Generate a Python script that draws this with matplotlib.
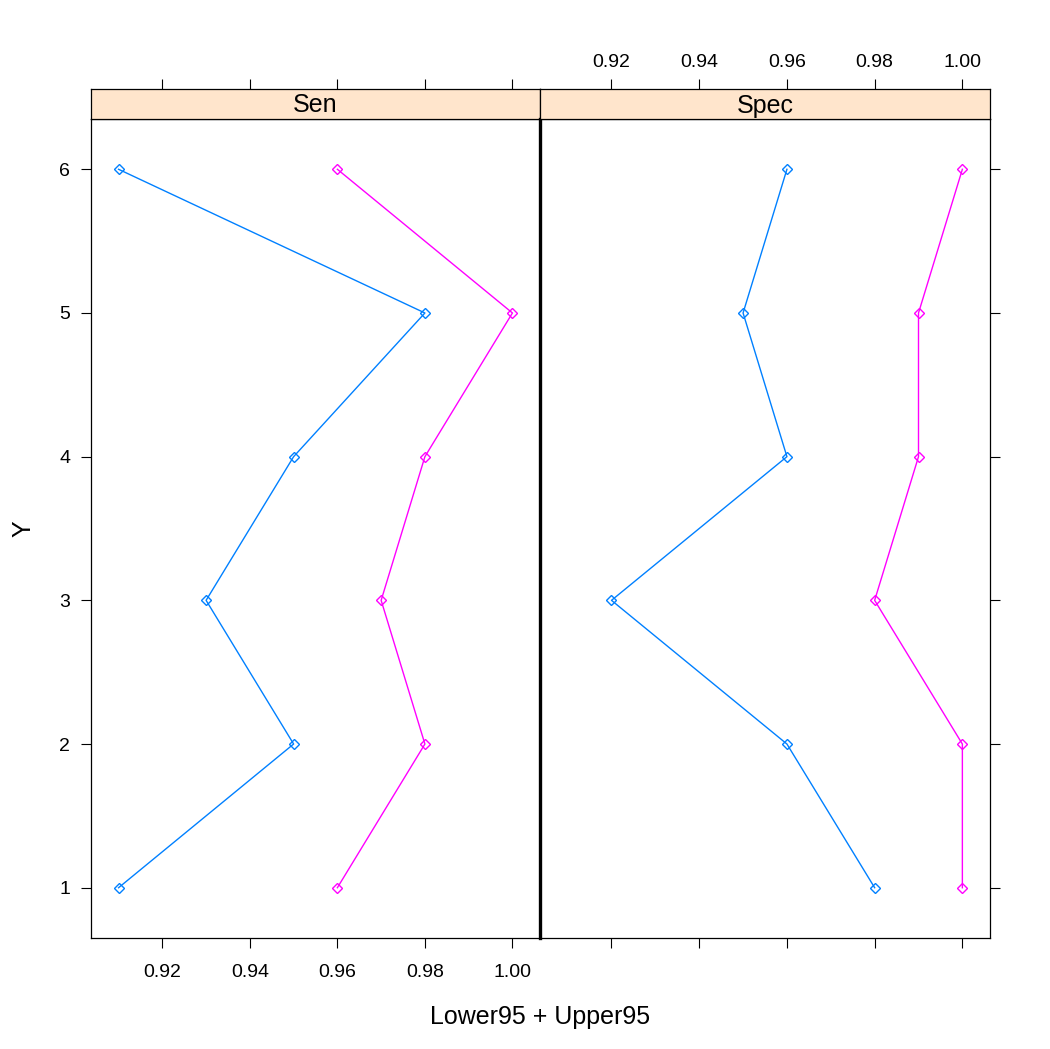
"""lattice 风格的双面板折线图（Sen / Spec 的 Lower95 与 Upper95）"""
import matplotlib
matplotlib.use("Agg")
import matplotlib.pyplot as plt

plt.rcParams["font.family"] = ["Liberation Sans", "DejaVu Sans"]

# ============ 数据 ============
y_vals = [1, 2, 3, 4, 5, 6]
panels = ["Sen", "Spec"]
sen_lower = [0.91, 0.95, 0.93, 0.95, 0.98, 0.91]
sen_upper = [0.96, 0.98, 0.97, 0.98, 1.00, 0.96]
spec_lower = [0.98, 0.96, 0.92, 0.96, 0.95, 0.96]
spec_upper = [1.00, 1.00, 0.98, 0.99, 0.99, 1.00]
x_ticks = [0.92, 0.94, 0.96, 0.98, 1.00]
x_ticklabels = ["0.92", "0.94", "0.96", "0.98", "1.00"]

BLUE = "#0080ff"
MAGENTA = "#ff00ff"
STRIP = "#ffe5cc"

W, H = 1050, 1049
fig = plt.figure(figsize=(W / 100, H / 100), dpi=100)

xlim = (0.9037, 1.0063)
ylim = (0.65, 6.35)


def fx(px):
    return px / W


def fy(px):
    return 1 - px / H


panel_top, panel_bot = 119, 938
strip_top = 89
lefts = [91, 540]
rights = [540, 990]
series = [(sen_lower, sen_upper), (spec_lower, spec_upper)]

tick_kw = dict(direction="out", length=7, width=0.8, labelsize=14, pad=5)

for i, name in enumerate(panels):
    x0, x1 = lefts[i], rights[i]
    ax = fig.add_axes([fx(x0), fy(panel_bot), fx(x1 - x0), (panel_bot - panel_top) / H])
    lo, up = series[i]
    ax.plot(lo, y_vals, "-", color=BLUE, lw=1.0, marker="D", ms=5, mfc="none", mec=BLUE, mew=1.0)
    ax.plot(up, y_vals, "-", color=MAGENTA, lw=1.0, marker="D", ms=5, mfc="none", mec=MAGENTA, mew=1.0)
    ax.set_xlim(*xlim)
    ax.set_ylim(*ylim)
    ax.set_xticks(x_ticks)
    ax.set_yticks(y_vals)
    for s in ax.spines.values():
        s.set_linewidth(0.9)
    ax.tick_params(**tick_kw)
    ax.tick_params(axis="x", bottom=True, top=False, pad=12)
    if i == 0:
        ax.set_xticklabels(x_ticklabels)
        ax.tick_params(axis="y", left=True, right=False, labelleft=True, pad=8)
        ax.set_ylabel("Y", fontsize=18, labelpad=17)
    else:
        ax.tick_params(axis="x", labelbottom=False)
        ax.tick_params(axis="y", left=False, right=True, labelleft=False)
        ax.spines["left"].set_linewidth(2.4)

    # 条带（strip）
    sax = fig.add_axes([fx(x0), fy(panel_top), fx(x1 - x0), (panel_top - strip_top) / H])
    sax.set_facecolor(STRIP)
    sax.set_xlim(*xlim)
    sax.set_yticks([])
    sax.set_xticks(x_ticks)
    for s in sax.spines.values():
        s.set_linewidth(0.9)
    sax.tick_params(**tick_kw)
    sax.tick_params(axis="x", bottom=False, top=True, labelbottom=False, labeltop=(i == 1), pad=6)
    if i == 1:
        sax.set_xticklabels(x_ticklabels)
    sax.text(0.5, 0.45, name, transform=sax.transAxes, ha="center", va="center", fontsize=18)

fig.text(fx(540), fy(1017), "Lower95 + Upper95", ha="center", va="center", fontsize=18)

fig.savefig("out.png", dpi=100)
